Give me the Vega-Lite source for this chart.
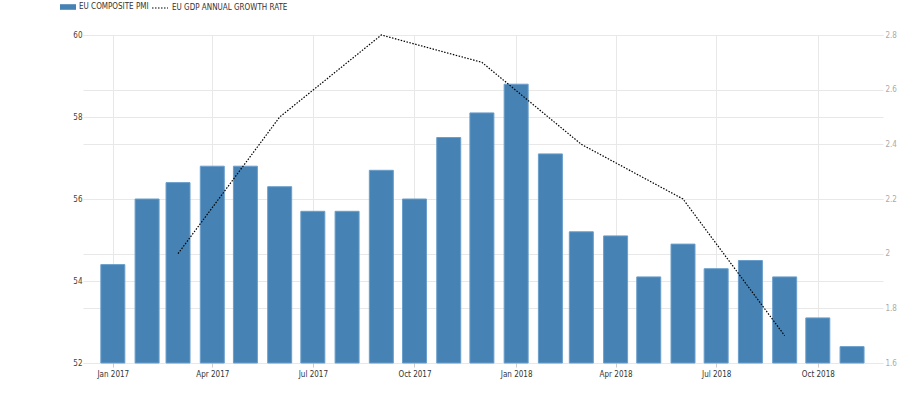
{
  "$schema": "https://vega.github.io/schema/vega-lite/v6.json",
  "width": 800,
  "height": 328,
  "autosize": {"type": "none"},
  "padding": {"left": 83, "top": 35, "right": 38, "bottom": 33},
  "background": "white",
  "config": {
    "view": {"stroke": null},
    "font": "Liberation Sans Narrow, DejaVu Sans Condensed, Liberation Sans",
    "axis": {"labelFont": "Liberation Sans Narrow, DejaVu Sans Condensed, Liberation Sans", "labelFontSize": 8, "gridColor": "#e8e8e8", "gridWidth": 1, "domain": false},
    "legend": {"padding": 0, "labelFont": "Liberation Sans Narrow, DejaVu Sans Condensed, Liberation Sans", "labelFontSize": 8, "labelColor": "#333333", "labelOffset": 3, "title": null}
  },
  "datasets": {
    "pmi": [
      {"date": "2017-01-01", "value": 54.4},
      {"date": "2017-02-01", "value": 56.0},
      {"date": "2017-03-01", "value": 56.4},
      {"date": "2017-04-01", "value": 56.8},
      {"date": "2017-05-01", "value": 56.8},
      {"date": "2017-06-01", "value": 56.3},
      {"date": "2017-07-01", "value": 55.7},
      {"date": "2017-08-01", "value": 55.7},
      {"date": "2017-09-01", "value": 56.7},
      {"date": "2017-10-01", "value": 56.0},
      {"date": "2017-11-01", "value": 57.5},
      {"date": "2017-12-01", "value": 58.1},
      {"date": "2018-01-01", "value": 58.8},
      {"date": "2018-02-01", "value": 57.1},
      {"date": "2018-03-01", "value": 55.2},
      {"date": "2018-04-01", "value": 55.1},
      {"date": "2018-05-01", "value": 54.1},
      {"date": "2018-06-01", "value": 54.9},
      {"date": "2018-07-01", "value": 54.3},
      {"date": "2018-08-01", "value": 54.5},
      {"date": "2018-09-01", "value": 54.1},
      {"date": "2018-10-01", "value": 53.1},
      {"date": "2018-11-01", "value": 52.4}
    ],
    "gdp": [
      {"date": "2017-03-01", "value": 2.0},
      {"date": "2017-06-01", "value": 2.5},
      {"date": "2017-09-01", "value": 2.8},
      {"date": "2017-12-01", "value": 2.7},
      {"date": "2018-03-01", "value": 2.4},
      {"date": "2018-06-01", "value": 2.2},
      {"date": "2018-09-01", "value": 1.7}
    ]
  },
  "layer": [
    {
      "data": {"name": "pmi"},
      "mark": {"type": "bar", "width": 24, "stroke": "#6a9fcb", "strokeWidth": 1},
      "encoding": {
        "x": {
          "field": "date", "type": "temporal",
          "scale": {"type": "utc", "padding": 0, "domain": [{"year": 2016, "month": 12, "date": 5, "utc": true}, {"year": 2018, "month": 11, "date": 29, "utc": true}]},
          "axis": {
            "title": null,
            "format": "%b %Y",
            "values": [
              {"year": 2017, "month": 1, "date": 1, "utc": true},
              {"year": 2017, "month": 4, "date": 1, "utc": true},
              {"year": 2017, "month": 7, "date": 1, "utc": true},
              {"year": 2017, "month": 10, "date": 1, "utc": true},
              {"year": 2018, "month": 1, "date": 1, "utc": true},
              {"year": 2018, "month": 4, "date": 1, "utc": true},
              {"year": 2018, "month": 7, "date": 1, "utc": true},
              {"year": 2018, "month": 10, "date": 1, "utc": true}
            ],
            "labelColor": "#333333",
            "tickColor": "#cccccc",
            "tickSize": 4,
            "labelPadding": 3,
            "grid": true,
            "labelFlush": false
          }
        },
        "y": {
          "field": "value", "type": "quantitative",
          "scale": {"domain": [52, 60], "zero": false, "nice": false},
          "axis": {"title": null, "values": [52, 54, 56, 58, 60], "ticks": false, "labelPadding": 1, "labelColor": "#4a3c30", "grid": true}
        },
        "y2": {"datum": 52},
        "color": {
          "datum": "EU COMPOSITE PMI",
          "scale": {"range": ["#4682b4"]},
          "legend": {
            "orient": "none",
            "legendX": -23,
            "legendY": -36,
            "symbolType": "M-1,-0.35H1V0.35H-1Z",
            "symbolSize": 256,
            "symbolStrokeWidth": 0
          }
        }
      }
    },
    {
      "data": {"name": "gdp"},
      "mark": {"type": "line", "strokeWidth": 1.2, "color": "#000000"},
      "encoding": {
        "x": {"field": "date", "type": "temporal"},
        "y": {
          "field": "value", "type": "quantitative",
          "scale": {"domain": [1.6, 2.8], "zero": false, "nice": false},
          "axis": {"title": null, "orient": "right", "values": [1.6, 1.8, 2.0, 2.2, 2.4, 2.6, 2.8], "format": "~g", "ticks": false, "labelPadding": 2, "labelColor": "#aaaaaa", "grid": true}
        },
        "strokeDash": {
          "datum": "EU GDP ANNUAL GROWTH RATE",
          "scale": {"range": [[1.5, 1.5]]},
          "legend": {
            "orient": "none",
            "legendX": 68,
            "legendY": -36,
            "symbolType": "stroke",
            "symbolSize": 256,
            "symbolStrokeColor": "#000000",
            "symbolStrokeWidth": 1.2
          }
        }
      }
    }
  ],
  "resolve": {"scale": {"y": "independent"}, "legend": {"color": "independent", "strokeDash": "independent"}}
}
